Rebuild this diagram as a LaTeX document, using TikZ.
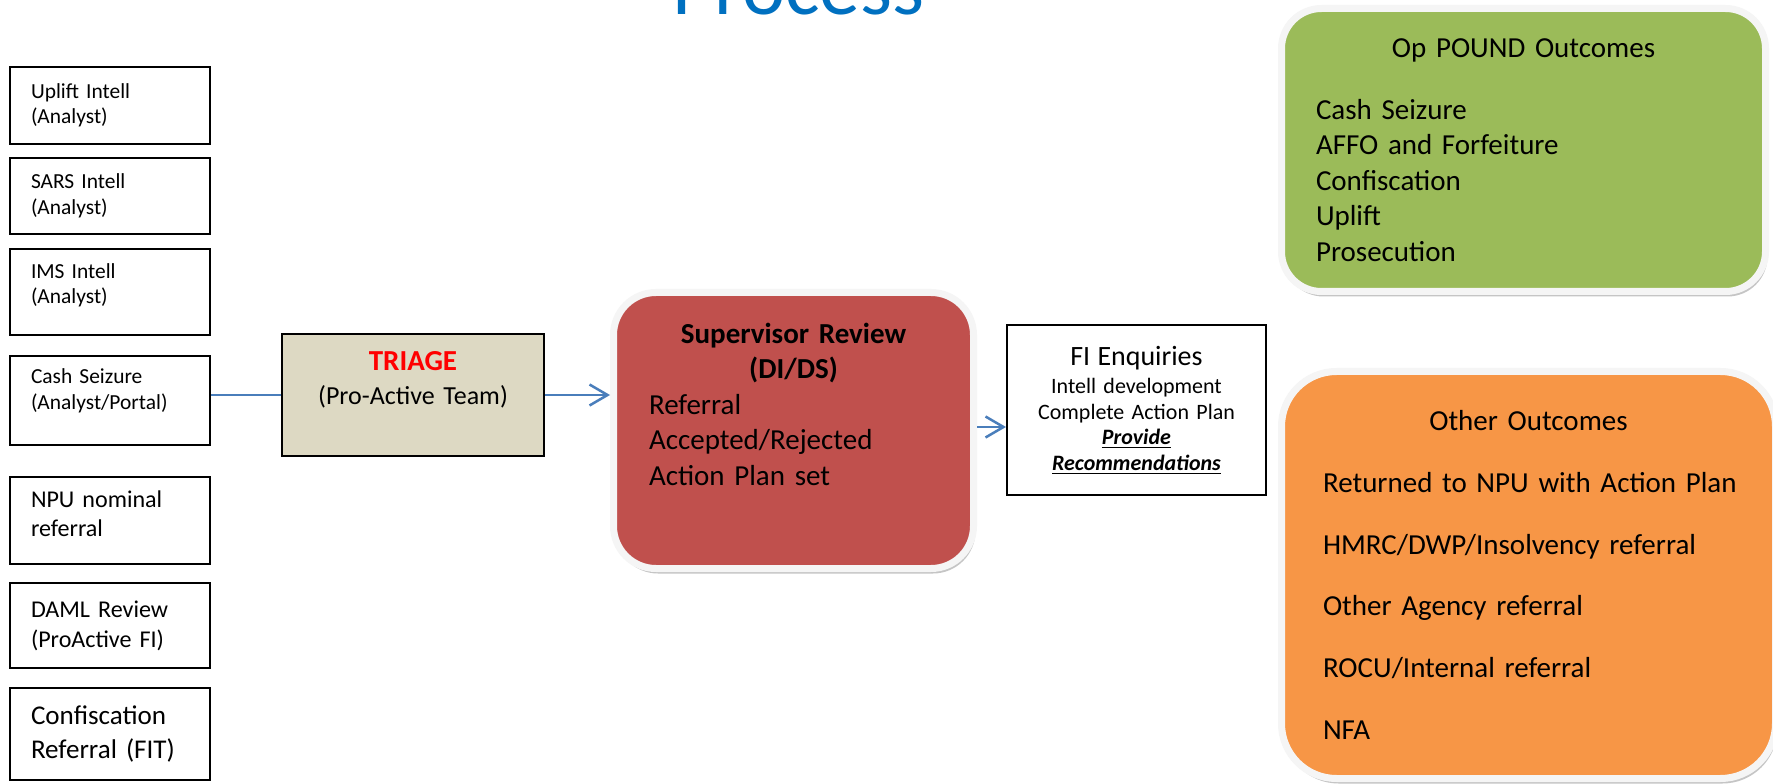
\documentclass[tikz,border=0pt]{standalone}
\usepackage{fontspec}
\setmainfont{Carlito}
\usepackage{tikz}
\usepackage{color}
\usetikzlibrary{shadows, arrows.meta, shapes.misc}

\definecolor{triagetan}{HTML}{DDD9C3}
\definecolor{reviewred}{HTML}{C0504D}
\definecolor{poundgreen}{HTML}{9BBB59}
\definecolor{otherorange}{HTML}{F79646}
\definecolor{flowblue}{HTML}{4A7EBB}
\definecolor{titleblue}{HTML}{0070C0}

\begin{document}
\begin{tikzpicture}[
		srcbox/.style={draw, line width=0.04cm, text width=3.16cm, inner xsep=0.42cm, inner ysep=0pt,
			align=left, minimum height=#1, font=\fontsize{12.2}{14.5}\selectfont},
		lift/.style={execute at end node={\endgraf\vspace*{#1}}},
		softbox/.style={draw=gray!8, line width=0.14cm, rounded corners=#1, inner sep=0pt,
			drop shadow={shadow xshift=0.04cm, shadow yshift=-0.1cm, fill=black!45}},
		flow/.style={draw=flowblue, line width=0.05cm},
		arrowflow/.style={flow, -{Straight Barb[length=0.36cm, width=0.42cm]}},
		]
		\useasboundingbox[fill=white] (0,0) rectangle (35.46,-15.68);
		
		\node[text=titleblue, font=\fontsize{46.5}{50}\selectfont, anchor=base] (title) at (15.97,-0.30) {Process};
		
		% sources
		\node[srcbox=1.54cm] (uplift) at (2.2,-2.11) {Uplift Intell\\(Analyst)};
		\node[srcbox=1.52cm] (sars) at (2.2,-3.92) {SARS Intell\\(Analyst)};
		\node[srcbox=1.72cm, lift=0.26cm] (ims) at (2.2,-5.84) {IMS Intell\\(Analyst)};
		\node[srcbox=1.78cm, lift=0.38cm] (cash) at (2.2,-8.01) {Cash Seizure\\(Analyst/Portal)};
		\node[srcbox=1.74cm, lift=0.28cm, font=\fontsize{13.7}{16.5}\selectfont] (npu) at (2.2,-10.41) {NPU nominal\\referral};
		\node[srcbox=1.70cm, font=\fontsize{13.7}{17}\selectfont] (daml) at (2.2,-12.51) {DAML Review\\(ProActive FI)};
		\node[srcbox=1.84cm, font=\fontsize{15.4}{19.3}\selectfont] (confisc) at (2.2,-14.68) {Confiscation\\Referral (FIT)};
		
		\node[draw, line width=0.04cm, fill=triagetan, minimum width=5.24cm, minimum height=2.44cm,
		text width=4.8cm, inner sep=0pt, align=center, font=\fontsize{14.8}{19.3}\selectfont, lift=0.6cm]
		(triage) at (8.26,-7.90) {{\color{red}\bfseries\fontsize{16.5}{19.3}\selectfont TRIAGE}\\(Pro-Active Team)};
		
		\node[softbox=0.85cm, fill=reviewred, minimum width=7.20cm, minimum height=5.52cm,
		text width=5.78cm, align=left, font=\fontsize{16.5}{20.2}\selectfont, lift=1.06cm]
		(review) at (15.87,-8.61) {{\centering\bfseries Supervisor Review\\(DI/DS)\par}Referral\\Accepted/Rejected\\Action Plan set};
		
		\node[draw, line width=0.04cm, fill=white, minimum width=5.18cm, minimum height=3.40cm,
		text width=4.8cm, inner sep=0pt, align=center, font=\fontsize{12.5}{14.6}\selectfont]
		(fi) at (22.73,-8.20) {{\fontsize{15.9}{18.2}\selectfont FI Enquiries\par}\vspace{1.5pt}Intell development\\Complete Action Plan\\\underline{\textbf{\textit{Provide}}}\\\underline{\textbf{\textit{Recommendations}}}};
		
		% outcomes
		\node[softbox=0.8cm, fill=poundgreen, minimum width=9.68cm, minimum height=5.66cm,
		text width=8.30cm, align=left, font=\fontsize{16.5}{20.2}\selectfont]
		(pound) at (30.47,-3.00) {{\centering Op POUND Outcomes\par}\vspace{0.53cm}Cash Seizure\\AFFO and Forfeiture\\Confiscation\\Uplift\\Prosecution};
		\node[softbox=1.1cm, fill=otherorange, minimum width=9.88cm, minimum height=8.14cm,
		text width=8.22cm, align=left, font=\fontsize{16.5}{35.2}\selectfont]
		(other) at (30.57,-11.50) {{\centering Other Outcomes\par}\mbox{Returned to NPU with Action Plan}\\HMRC/DWP/Insolvency referral\\Other Agency referral\\ROCU/Internal referral\\NFA};
		
		\draw[flow] (cash.east |- triage.west) -- (triage.west);
		\draw[arrowflow] (triage.east) -- (triage.east -| review.west);
		\coordinate (tofi) at ([yshift=0.07cm]review.east);
		\draw[arrowflow] (tofi) -- (tofi -| fi.west);
\end{tikzpicture}
\end{document}
